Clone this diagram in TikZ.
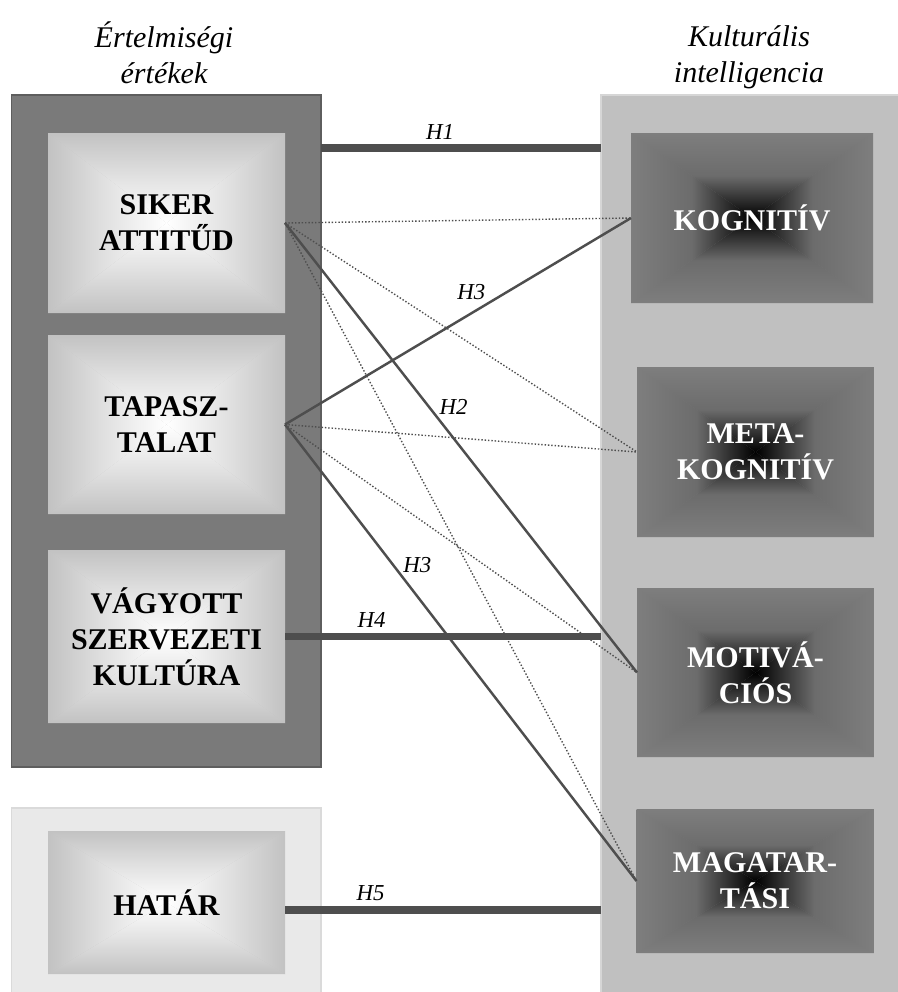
\documentclass[tikz,border=0pt]{standalone}
\usepackage{fontspec}
\setmainfont{Liberation Serif}
\usepackage{xcolor}
\tikzset{>=stealth}

\definecolor{valuesgray}{HTML}{7A7A7A}
\definecolor{valuesedge}{HTML}{5E5E5E}
\definecolor{cqgray}{HTML}{C0C0C0}
\definecolor{cqedge}{HTML}{D6D6D6}
\definecolor{hatargray}{HTML}{E9E9E9}
\definecolor{hataredge}{HTML}{DADADA}
\definecolor{lightedge}{HTML}{C2C2C2}
\definecolor{lightmid}{HTML}{E2E2E2}
\definecolor{darkedge}{HTML}{7E7E7E}
\definecolor{darkmid}{HTML}{6C6C6C}
\definecolor{linkgray}{HTML}{4E4E4E}

\def\pxu{0.02cm}

% four triangles shaded from the border to the middle
\newcommand{\quadshade}[3]{%
  \coordinate (qnw) at (path picture bounding box.north west);
  \coordinate (qne) at (path picture bounding box.north east);
  \coordinate (qsw) at (path picture bounding box.south west);
  \coordinate (qse) at (path picture bounding box.south east);
  \coordinate (qc) at (path picture bounding box.center);
  \begin{scope}
    \clip (qnw) -- (qne) -- (qc) -- cycle;
    \shade[top color=#1, bottom color=#3, middle color=#2] (qnw) rectangle (qc -| qne);
  \end{scope}
  \begin{scope}
    \clip (qsw) -- (qse) -- (qc) -- cycle;
    \shade[top color=#3, bottom color=#1, middle color=#2] (qsw) rectangle (qc -| qse);
  \end{scope}
  \begin{scope}
    \clip (qnw) -- (qsw) -- (qc) -- cycle;
    \shade[left color=#1, right color=#3, middle color=#2] (qsw) rectangle (qc |- qnw);
  \end{scope}
  \begin{scope}
    \clip (qne) -- (qse) -- (qc) -- cycle;
    \shade[left color=#3, right color=#1, middle color=#2] (qc |- qse) rectangle (qne);
  \end{scope}}

\newcommand{\boxfont}{\bfseries\fontsize{17.1}{20.4}\selectfont}
\newcommand{\titlefont}{\itshape\fontsize{17.1}{20.4}\selectfont}
\newcommand{\hfont}{\itshape\fontsize{13}{15}\selectfont}

\tikzset{
  panel/.style={rectangle, inner sep=0pt, outer sep=0pt, line width=0.6pt},
  lightbox/.style={rectangle, inner sep=0pt, outer sep=0pt, minimum width=237*\pxu,
    align=center, font=\boxfont, text=black, fill=lightedge,
    path picture={\quadshade{lightedge}{lightmid}{white}}},
  darkbox/.style={rectangle, inner sep=0pt, outer sep=0pt, minimum width=237*\pxu,
    align=center, font=\boxfont, text=white, fill=darkedge,
    path picture={\quadshade{darkedge}{darkmid}{black}}},
  hlink/.style={line width=4.4pt, color=linkgray},
  slink/.style={line width=1.4pt, color=linkgray},
  dlink/.style={line width=0.8pt, color=linkgray, dash pattern=on 0.8pt off 1.1pt},
  hlabel/.style={font=\hfont, text=black, inner sep=0pt},
}

\begin{document}
\begin{tikzpicture}[x=0.02cm, y=0.02cm]
        \useasboundingbox (0,0) rectangle (898,-992);

        %panels
        \node[panel, fill=valuesgray, draw=valuesedge, minimum width=309.5*\pxu, minimum height=672*\pxu] (values) at (166.25,-431) {};
        \node[panel, fill=hatargray, draw=hataredge, minimum width=309.5*\pxu, minimum height=200*\pxu] (hatarpanel) at (166.25,-908) {};
        \node[panel, fill=cqgray, draw=cqedge, minimum width=310*\pxu, minimum height=910*\pxu] (cq) at (756,-550) {};

        %titles
        \node[font=\titlefont, align=center] (valuestitle) at (164,-53) {Értelmiségi\\értékek};
        \node[font=\titlefont, align=center] (cqtitle) at (749,-57) {Kulturális\\intelligencia};

        %values
        \node[lightbox, minimum height=180*\pxu] (siker) at (166.5,-223) {SIKER\\ATTITŰD};
        \node[lightbox, minimum height=179*\pxu] (tapasz) at (166.5,-424.5) {TAPASZ-\\TALAT};
        \node[lightbox, minimum height=173*\pxu] (vagyott) at (166.5,-636.5) {VÁGYOTT\\SZERVEZETI\\KULTÚRA};
        \node[lightbox, minimum height=143*\pxu] (hatar) at (166.5,-902.5) {HATÁR};

        %cultural intelligence
        \node[darkbox, minimum width=242*\pxu, minimum height=170*\pxu] (kogn) at (752,-218) {KOGNITÍV};
        \node[darkbox, minimum height=170*\pxu] (meta) at (755.5,-452) {META-\\KOGNITÍV};
        \node[darkbox, minimum height=169*\pxu] (motiv) at (755.5,-672.5) {MOTIVÁ-\\CIÓS};
        \node[darkbox, minimum height=144*\pxu] (magatar) at (755,-881) {MAGATAR-\\TÁSI};

        %main links
        \coordinate (h1) at (0,-148);
        \draw[hlink] (values.east |- h1) -- node[hlabel, pos=0.425, above=5*\pxu] {H1} (cq.west |- h1);
        \draw[hlink] (vagyott.east) -- node[hlabel, pos=0.274, above=5*\pxu] {H4} (vagyott.east -| cq.west);
        \draw[hlink] ([yshift=-7.5*\pxu]hatar.east) -- node[hlabel, pos=0.271, above=5*\pxu] {H5} ([yshift=-7.5*\pxu]hatar.east -| cq.west);

        %solid links
        \draw[slink] (siker.east) -- node[hlabel, pos=0.41, right=9*\pxu] {H2} (motiv.west);
        \draw[slink] (tapasz.east) -- node[hlabel, pos=0.6, anchor=south east, xshift=-6*\pxu] {H3} (kogn.west);
        \draw[slink] (tapasz.east) -- node[hlabel, pos=0.308, right=9*\pxu] {H3} (magatar.west);

        %dotted links
        \draw[dlink] (siker.east) -- (kogn.west);
        \draw[dlink] (siker.east) -- (meta.west);
        \draw[dlink] (siker.east) -- (magatar.west);
        \draw[dlink] (tapasz.east) -- (meta.west);
        \draw[dlink] (tapasz.east) -- (motiv.west);

    \end{tikzpicture}
\end{document}
